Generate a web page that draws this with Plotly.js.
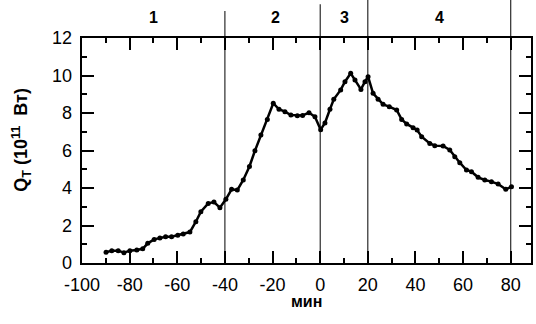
<!DOCTYPE html>
<html><head><meta charset="utf-8">
<script src="https://cdn.plot.ly/plotly-3.0.1.min.js"></script>
<style>
html,body{margin:0;padding:0;overflow:hidden;background:#fff}
.q{position:absolute}
#chart{left:0;top:0;width:536px;height:324px}
#frame{left:52px;top:8px;width:489px;height:285px}
</style>
</head><body>
<div class="q" id="chart"></div>
<div class="q" id="frame"></div>
<script>
const minutes = [-89.9,-87.5,-84.8,-82.4,-79.9,-77.0,-74.5,-72.4,-69.7,-67.3,-64.9,-62.4,-59.8,-57.5,-54.7,-52.2,-50.1,-47.0,-44.6,-42.1,-39.6,-37.2,-34.8,-32.3,-29.7,-27.4,-24.9,-22.2,-19.7,-17.3,-14.8,-12.3,-9.6,-7.4,-4.7,-2.2,0.2,2.0,4.1,5.7,8.6,10.4,12.8,14.6,17.1,18.8,20.1,22.2,24.3,26.4,29.0,32.1,34.2,36.3,39.0,40.7,42.6,46.0,48.1,51.6,54.4,56.5,58.6,61.4,63.5,66.3,69.1,71.9,74.7,77.9,80.3];
const qValues = [0.57,0.66,0.66,0.55,0.66,0.69,0.76,1.05,1.26,1.33,1.40,1.40,1.48,1.55,1.65,2.2,2.74,3.18,3.25,2.95,3.4,3.93,3.89,4.43,5.15,5.99,6.83,7.66,8.52,8.2,8.07,7.89,7.86,7.87,8.02,7.8,7.11,7.47,8.2,8.73,9.23,9.67,10.12,9.76,9.26,9.67,9.94,9.05,8.73,8.46,8.34,8.16,7.66,7.42,7.22,7.09,6.74,6.38,6.26,6.24,6.03,5.67,5.35,4.96,4.87,4.57,4.43,4.34,4.21,3.93,4.07];
const boundaryX = [-40, 0, 20, 80];
const boundaryTop = [1.12, 1.15, 1.17, 1.17];
const starX = [-40, 0, 0];
const starY = [13.46, 13.71, 13.08];
const regionLabels = ['1', '2', '3', '4'];
const regionX = [-70, -18.6, 10.4, 50];
const xTicks = [-100, -80, -60, -40, -20, 0, 20, 40, 60, 80];
const yTicks = [0, 2, 4, 6, 8, 10, 12];
const xRange = [-100, 88.5];
const yRange = [0, 12];

const font = 'Arial';
const black = '#000';

/* ---------- main chart: data, labels, titles ---------- */
const traces = [
  {x: minutes, y: qValues, type: 'scatter', mode: 'lines+markers',
   line: {color: black, width: 2.5}, marker: {color: black, size: 5}},
  {x: starX, y: starY, type: 'scatter', mode: 'markers', cliponaxis: false,
   marker: {symbol: 'asterisk-open', size: 9, color: black, line: {color: black, width: 1.5}}}
];

const shapes = boundaryX.map((v, i) => ({type: 'line', xref: 'x', yref: 'paper', x0: v, x1: v, y0: 0, y1: boundaryTop[i], line: {color: black, width: 1}}));

const annotations = regionLabels.map((t, i) => ({text: '<b>' + t + '</b>', x: regionX[i], xref: 'x', y: 1.089, yref: 'paper', showarrow: false, xanchor: 'center', yanchor: 'middle', font: {family: font, size: 16, color: black}}));
annotations.push({text: '<b>Q<sub>T</sub> (10<sup>11</sup>  Вт)</b>', xref: 'paper', yref: 'paper', x: -0.134, y: 0.547, textangle: -90, showarrow: false, xanchor: 'center', yanchor: 'middle', font: {family: font, size: 18, color: black}});
annotations.push({text: '<b>мин</b>', xref: 'paper', yref: 'paper', x: 0.5, y: -0.17, showarrow: false, xanchor: 'center', yanchor: 'middle', font: {family: font, size: 16, color: black}});

const layout = {
  width: 536, height: 324,
  margin: {l: 82, r: 5, t: 38, b: 61},
  showlegend: false,
  font: {family: font, color: black},
  xaxis: {range: xRange, tickmode: 'array', tickvals: xTicks, ticktext: xTicks.map(String),
    ticks: '', showline: false, showgrid: false, zeroline: false, ticklabelstandoff: 9, tickfont: {size: 18, family: font, color: black}},
  yaxis: {range: yRange, tickmode: 'array', tickvals: yTicks, ticktext: yTicks.map(String),
    ticks: '', showline: false, showgrid: false, zeroline: false, ticklabelstandoff: 9, tickfont: {size: 18, family: font, color: black}},
  shapes: shapes,
  annotations: annotations
};
Plotly.newPlot('chart', traces, layout, {displayModeBar: false});

/* ---------- overlay graph: axis frame with inside ticks, same plot area ---------- */
const frameAxis = (range, vals, minorStep) => ({
  range: range, tickmode: 'array', tickvals: vals, showticklabels: false,
  ticks: 'inside', ticklen: 12, tickwidth: 2, tickcolor: black,
  minor: {dtick: minorStep, ticks: 'inside', ticklen: 5, tickwidth: 2, tickcolor: black},
  showline: true, linewidth: 2, linecolor: black, mirror: 'ticks',
  showgrid: false, zeroline: false
});
Plotly.newPlot('frame',
  [{x: xRange, y: yRange, mode: 'markers', marker: {opacity: 0}}],
  {width: 489, height: 285, margin: {l: 30, r: 10, t: 30, b: 30},
   paper_bgcolor: 'rgba(0,0,0,0)', plot_bgcolor: 'rgba(0,0,0,0)', showlegend: false,
   xaxis: frameAxis(xRange, xTicks, 10), yaxis: frameAxis(yRange, yTicks, 1)},
  {displayModeBar: false, staticPlot: true});
</script>
</body></html>
